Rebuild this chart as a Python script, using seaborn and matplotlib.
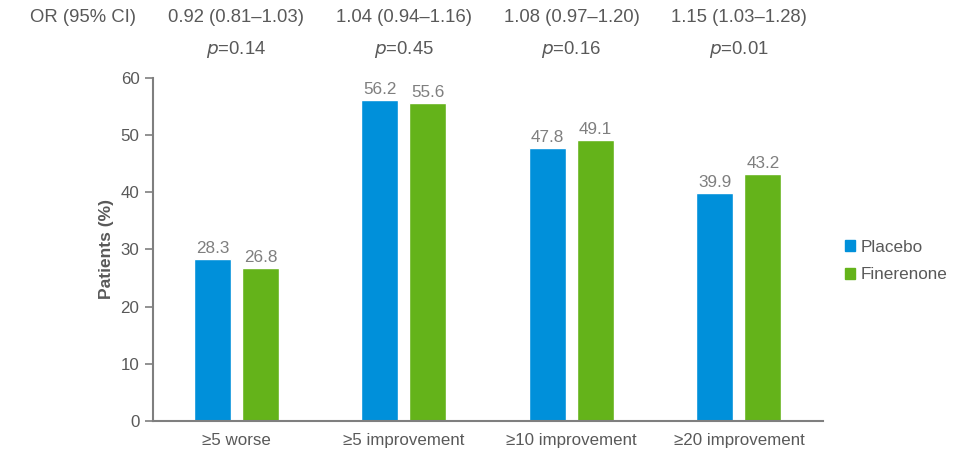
import matplotlib
matplotlib.use("Agg")
import matplotlib.pyplot as plt
import seaborn as sns
import pandas as pd

# data
categories = ["≥5 worse", "≥5 improvement", "≥10 improvement", "≥20 improvement"]
placebo = [28.3, 56.2, 47.8, 39.9]
finerenone = [26.8, 55.6, 49.1, 43.2]
or_labels = ["0.92 (0.81–1.03)", "1.04 (0.94–1.16)", "1.08 (0.97–1.20)", "1.15 (1.03–1.28)"]
p_values = ["0.14", "0.45", "0.16", "0.01"]

df = pd.DataFrame({
    "category": categories * 2,
    "group": ["Placebo"] * 4 + ["Finerenone"] * 4,
    "value": placebo + finerenone,
})

sns.set_style("white")
plt.rcParams["font.family"] = ["Liberation Sans", "DejaVu Sans"]

blue = "#0090DA"
green = "#64B31A"
grey = "#7f7f7f"
dark = "#595959"

fig = plt.figure(figsize=(9.6, 4.61), dpi=100)
ax = fig.add_axes([0.159, 0.087, 0.698, 0.744])

sns.barplot(data=df, x="category", y="value", hue="group",
            palette=[blue, green], width=0.573, gap=0.23,
            saturation=1, ax=ax, legend=False)

for cont in ax.containers:
    ax.bar_label(cont, fmt="%.1f", padding=2, color=grey, fontsize=12.3)

ax.set_xlim(-0.5, 3.5)
ax.set_ylim(0, 60)
ax.set_yticks(range(0, 61, 10))
ax.set_xlabel("")
ax.set_ylabel("Patients (%)", fontsize=12.5, fontweight="bold", color=dark, labelpad=5)
ax.tick_params(axis="y", length=6, width=1.2, color=grey, labelcolor=dark, labelsize=12.2, direction="out", left=True)
ax.tick_params(axis="x", length=0, labelcolor=dark, labelsize=12.2, pad=9)

for s in ["top", "right"]:
    ax.spines[s].set_visible(False)
for s in ["left", "bottom"]:
    ax.spines[s].set_color(grey)
    ax.spines[s].set_linewidth(1.5)

# OR and p-values above the chart
fig.text(30 / 960, 1 - 17 / 461, "OR (95% CI)", fontsize=13.3, color=dark, va="center")
for i, (orl, p) in enumerate(zip(or_labels, p_values)):
    ax.annotate(orl, xy=(i, 1), xycoords=("data", "axes fraction"),
                xytext=(0, 1 - 17 / 461), textcoords=("offset points", "figure fraction"),
                ha="center", va="center", fontsize=13.3, color=dark)
    ax.annotate(r"$\it{p}$=" + p, xy=(i, 1), xycoords=("data", "axes fraction"),
                xytext=(0, 1 - 50 / 461), textcoords=("offset points", "figure fraction"),
                ha="center", va="center", fontsize=13.3, color=dark)

handles = [plt.Rectangle((0, 0), 1, 1, color=blue), plt.Rectangle((0, 0), 1, 1, color=green)]
fig.legend(handles, ["Placebo", "Finerenone"], loc="center left",
           bbox_to_anchor=(830 / 960, 1 - 261 / 461), frameon=False,
           fontsize=12.3, labelcolor=dark, handlelength=0.55, handleheight=0.55,
           handletextpad=0.35, labelspacing=0.75)

fig.savefig("out.png", dpi=100)
